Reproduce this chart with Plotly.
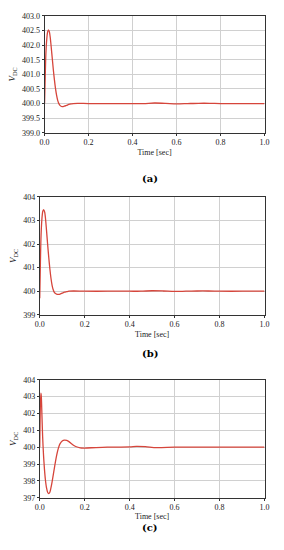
import plotly.graph_objects as go

# Panel (a)
t_a = [0, 0.003, 0.006, 0.01, 0.014, 0.018, 0.022, 0.026, 0.03, 0.035, 0.04, 0.045, 0.05, 0.055,
       0.06, 0.065, 0.07, 0.075, 0.08, 0.085, 0.09, 0.1, 0.11, 0.12, 0.13, 0.15, 0.2, 0.3, 0.4,
       0.45, 0.5, 0.55, 0.6, 0.65, 0.7, 0.75, 0.8, 0.9, 1.0]
v_a = [400.0, 400.9, 401.7, 402.2, 402.45, 402.52, 402.45, 402.25, 401.95, 401.55, 401.15, 400.8,
       400.5, 400.27, 400.1, 400.0, 399.94, 399.91, 399.9, 399.9, 399.91, 399.94, 399.97, 399.99,
       400.0, 400.01, 400.0, 400.0, 400.0, 400.0, 400.02, 400.01, 399.99, 400.0, 400.01, 400.01,
       400.0, 400.0, 400.0]

# Panel (b)
t_b = [0, 0.003, 0.006, 0.01, 0.014, 0.018, 0.022, 0.026, 0.03, 0.035, 0.04, 0.045, 0.05, 0.055,
       0.06, 0.065, 0.07, 0.075, 0.08, 0.085, 0.09, 0.1, 0.11, 0.12, 0.13, 0.15, 0.2, 0.3, 0.4,
       0.45, 0.5, 0.55, 0.6, 0.65, 0.7, 0.75, 0.8, 0.9, 1.0]
v_b = [399.7, 401.2, 402.4, 403.1, 403.4, 403.45, 403.35, 403.05, 402.6, 402.0, 401.45, 400.95,
       400.55, 400.25, 400.06, 399.95, 399.9, 399.88, 399.87, 399.87, 399.88, 399.92, 399.96, 399.98,
       400.0, 400.01, 400.0, 400.0, 400.0, 400.0, 400.02, 400.01, 399.99, 400.0, 400.01, 400.01,
       400.0, 400.0, 400.0]

# Panel (c)
t_c = [0, 0.002, 0.005, 0.007, 0.01, 0.013, 0.017, 0.021, 0.025, 0.03, 0.035, 0.04, 0.045, 0.05,
       0.055, 0.06, 0.065, 0.07, 0.075, 0.08, 0.085, 0.09, 0.1, 0.11, 0.12, 0.13, 0.14, 0.15, 0.16,
       0.18, 0.2, 0.25, 0.3, 0.4, 0.43, 0.47, 0.52, 0.6, 0.7, 0.8, 0.9, 1.0]
v_c = [400.0, 402.0, 403.2, 403.0, 401.8, 400.6, 399.5, 398.7, 398.1, 397.6, 397.33, 397.25,
       397.33, 397.6, 397.95, 398.35, 398.75, 399.15, 399.5, 399.8, 400.03, 400.2, 400.37, 400.42,
       400.4, 400.33, 400.22, 400.12, 400.04, 399.96, 399.95, 399.98, 400.0, 400.02, 400.05, 400.03,
       399.97, 400.0, 400.0, 400.0, 400.0, 400.0]

x_ticks = [0.0, 0.2, 0.4, 0.6, 0.8, 1.0]
x_tick_labels = ["0.0", "0.2", "0.4", "0.6", "0.8", "1.0"]
y_ticks_a = [399.0, 399.5, 400.0, 400.5, 401.0, 401.5, 402.0, 402.5, 403.0]
y_labels_a = ["399.0", "399.5", "400.0", "400.5", "401.0", "401.5", "402.0", "402.5", "403.0"]
y_ticks_b = [399, 400, 401, 402, 403, 404]
y_ticks_c = [397, 398, 399, 400, 401, 402, 403, 404]
panel_labels = ["(a)", "(b)", "(c)"]

W, H = 284, 550
LINE = "#d6453b"
SERIF = "Liberation Serif"
TXT = "#222"

panels = [
    dict(t=t_a, v=v_a, x0=41, x1=269, y0=12, y1=131, yr=[399, 403], yt=y_ticks_a, yl=y_labels_a, lab_y=170),
    dict(t=t_b, v=v_b, x0=36, x1=269, y0=196, y1=316, yr=[399, 404], yt=y_ticks_b,
         yl=[str(v) for v in y_ticks_b], lab_y=355),
    dict(t=t_c, v=v_c, x0=36, x1=269, y0=382, y1=502, yr=[397, 404], yt=y_ticks_c,
         yl=[str(v) for v in y_ticks_c], lab_y=540),
]

fig = go.Figure()
layout = dict(width=W, height=H, margin=dict(l=0, r=0, t=0, b=0),
              paper_bgcolor="white", plot_bgcolor="white", showlegend=False,
              font=dict(family=SERIF, size=8, color=TXT))
annotations = []
for i, p in enumerate(panels):
    n = "" if i == 0 else str(i + 1)
    fig.add_trace(go.Scatter(x=p["t"], y=p["v"], mode="lines",
                             line=dict(color=LINE, width=1.3, shape="spline", smoothing=0.8),
                             xaxis="x" + n, yaxis="y" + n, hoverinfo="skip"))
    axcommon = dict(showgrid=True, gridcolor="#d0d0d0", gridwidth=1, showline=True, linecolor="#333",
                    linewidth=1, mirror=True, ticks="outside", ticklen=2, tickcolor="#333", zeroline=False,
                    tickfont=dict(family=SERIF, size=8, color=TXT))
    layout["xaxis" + n] = dict(axcommon, domain=[p["x0"] / W, p["x1"] / W], range=[0, 1],
                               tickvals=x_ticks, ticktext=x_tick_labels, anchor="y" + n,
                               title=dict(text="Time [sec]", font=dict(family=SERIF, size=8, color=TXT),
                                          standoff=2))
    layout["yaxis" + n] = dict(axcommon, domain=[1 - p["y1"] / H, 1 - p["y0"] / H], range=p["yr"],
                               tickvals=p["yt"], ticktext=p["yl"], anchor="x" + n,
                               title=dict(text="<i>V</i><sub>DC</sub>",
                                          font=dict(family=SERIF, size=9, color=TXT), standoff=4))
    annotations.append(dict(text="<b>" + panel_labels[i] + "</b>", xref="paper", yref="paper",
                            x=150 / W, y=1 - p["lab_y"] / H, showarrow=False,
                            font=dict(family="DejaVu Serif", size=10, color="black")))
layout["annotations"] = annotations
fig.update_layout(**layout)
fig.write_html("out.html", config={"displayModeBar": False},
               post_script="document.body.style.margin='0px';document.body.style.overflow='hidden';")
